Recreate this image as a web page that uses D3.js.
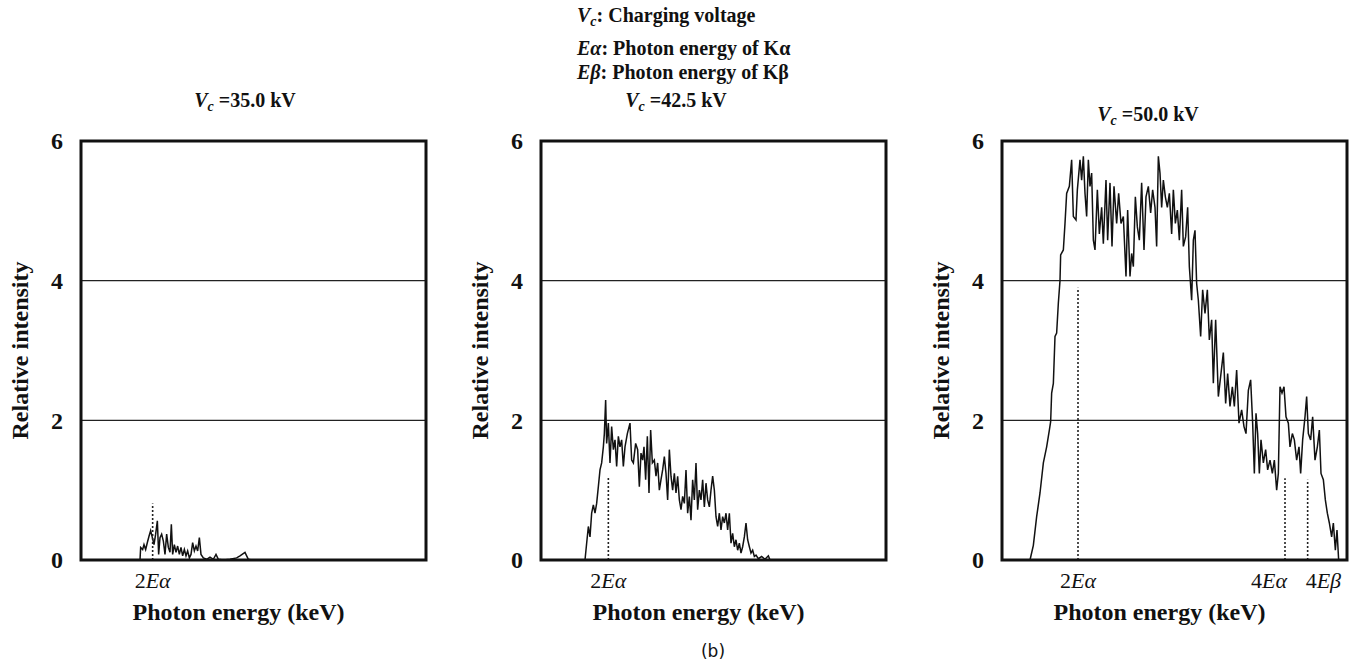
<!DOCTYPE html>
<html>
<head>
<meta charset="utf-8">
<script src="https://cdn.jsdelivr.net/npm/d3@7"></script>
<style>
  html, body { margin: 0; padding: 0; background: #fff; }
  svg { display: block; }
  text { font-family: "Liberation Serif", "Times New Roman", serif; fill: #111; }
</style>
</head>
<body>
<svg id="chart" width="1364" height="668"></svg>
<script>
// ---------------- data ----------------
const yTicks = [0, 2, 4, 6];
const gridValues = [2, 4];
const voltages = ["35.0", "42.5", "50.0"];

// Vc = 35.0 kV
const energy35 = [11.8,11.93,12.33,12.6,12.93,13.27,13.6,13.93,14.27,14.6,14.93,15.27,15.53,15.8,16.13,16.47,16.8,17.13,17.47,17.8,18.07,18.33,18.67,19.0,19.33,19.67,20.0,20.33,20.67,21.0,21.33,21.67,22.0,22.33,22.67,23.0,23.33,23.67,24.0,24.47,25.13,25.8,26.47,27.0,27.47,28.47,29.8,31.13,31.8,32.8,33.13,33.47,34.13];
const intensity35 = [0,0.18,0.15,0.22,0.15,0.25,0.34,0.42,0.32,0.22,0.37,0.56,0.08,0.32,0.37,0.27,0.08,0.37,0.18,0.11,0.51,0.08,0.22,0.11,0.2,0.08,0.18,0.06,0.15,0.06,0.13,0.03,0.08,0.25,0.13,0.2,0.13,0.32,0.08,0.03,0.01,0.04,0.01,0.08,0.01,0,0.01,0.03,0.06,0.11,0.06,0.01,0];

// Vc = 42.5 kV
const energy425 = [8.8,9.13,9.47,9.8,10.13,10.47,10.8,11.13,11.47,11.8,12.13,12.47,12.67,12.93,13.13,13.47,13.8,14.13,14.47,14.8,15.13,15.47,15.8,16.13,16.47,16.8,17.27,17.8,18.13,18.47,18.93,19.33,19.67,20.0,20.33,20.6,20.93,21.27,21.6,21.93,22.27,22.67,23.0,23.33,23.67,24.0,24.33,24.67,25.0,25.33,25.67,26.0,26.33,26.67,27.0,27.33,27.67,28.0,28.33,28.67,29.0,29.33,29.67,30.0,30.33,30.67,31.0,31.33,31.67,32.0,32.33,32.67,33.0,33.33,33.67,34.0,34.33,34.67,35.0,35.33,35.67,36.0,36.33,36.67,37.0,37.33,37.67,38.0,38.33,38.67,39.0,39.33,39.67,40.0,40.33,40.67,41.0,41.33,41.67,42.0,42.33,42.67,43.0,43.47,44.13,44.8,45.47,45.8];
const intensity425 = [0,0.24,0.48,0.33,0.67,0.79,0.67,0.81,1.05,1.29,1.39,1.62,1.81,2.29,1.67,1.96,1.39,1.91,1.58,1.72,1.34,1.77,1.62,1.72,1.34,1.62,1.81,1.96,1.43,1.39,1.67,1.58,1.05,1.53,1.43,1.62,1.15,1.77,0.96,1.86,1.39,1.43,1.2,1.39,1.0,1.15,1.29,1.48,1.24,0.86,1.58,1.2,1.0,1.24,0.96,1.2,0.86,0.72,0.91,0.81,1.29,0.67,0.91,0.57,1.15,0.86,1.39,0.72,1.0,0.86,1.15,0.76,1.1,0.86,0.76,1.0,1.2,1.0,0.62,0.48,0.67,0.43,0.62,0.53,0.67,0.43,0.67,0.24,0.38,0.19,0.29,0.14,0.24,0.1,0.19,0.33,0.53,0.29,0.19,0.1,0.14,0.05,0.07,0.02,0.05,0.01,0.06,0];

// Vc = 50.0 kV
const energy50 = [5.6,6.27,6.93,7.6,8.27,8.93,9.47,9.73,9.93,10.27,10.6,10.93,11.27,11.6,11.73,12.27,12.6,12.93,13.47,13.93,14.27,14.8,15.07,15.6,15.93,16.27,16.6,16.93,17.27,17.6,17.93,18.27,18.6,19.07,19.47,19.93,20.27,20.8,21.13,21.6,22.0,22.4,22.93,23.33,23.8,24.27,24.8,25.13,25.6,25.93,26.27,26.67,27.07,27.47,27.93,28.4,28.8,29.27,29.73,30.13,30.6,30.93,31.27,31.6,31.93,32.27,32.67,33.07,33.47,33.93,34.27,34.67,35.07,35.47,35.93,36.27,36.73,37.13,37.47,37.93,38.27,38.6,38.93,39.27,39.73,40.13,40.6,41.07,41.47,41.93,42.27,42.73,43.27,43.73,44.27,44.73,45.13,45.6,46.07,46.47,46.93,47.4,47.93,48.4,48.8,49.27,49.73,50.13,50.47,50.8,51.13,51.47,51.8,52.27,52.73,53.13,53.6,54.07,54.47,54.93,55.27,55.6,56.0,56.4,56.8,57.27,57.6,58.07,58.47,58.93,59.4,59.73,60.13,60.6,60.93,61.27,61.73,62.13,62.6,63.07,63.47,63.8,64.27,64.67,65.07,65.47,65.93,66.27,66.67,67.0,67.33];
const intensity50 = [0,0.21,0.62,0.96,1.39,1.62,1.86,1.98,2.39,2.53,3.2,3.25,3.68,4.0,4.37,4.44,4.82,5.25,5.35,5.73,4.92,4.87,5.3,5.73,5.44,5.78,5.25,4.92,5.73,5.35,5.54,4.58,4.44,5.3,4.67,5.05,4.53,5.44,4.58,5.4,4.49,5.35,4.82,5.25,4.82,4.92,4.06,5.01,4.06,4.39,4.2,5.2,4.77,4.58,5.4,4.44,5.2,5.35,4.97,5.3,5.05,4.49,5.78,5.54,5.05,5.44,5.2,5.05,5.25,4.67,5.3,4.82,5.01,4.58,5.3,4.49,4.63,5.05,4.2,3.72,4.58,4.72,3.96,3.72,3.2,3.87,3.53,3.87,3.15,3.44,2.53,3.44,2.34,2.63,2.97,2.24,2.67,2.2,2.48,2.2,2.72,1.96,2.15,1.91,1.81,2.43,2.58,1.96,1.24,2.1,1.81,1.24,1.72,1.39,1.58,1.29,1.43,1.24,1.43,1.0,1.24,2.48,2.39,2.48,2.05,1.96,1.62,1.81,1.72,1.43,1.62,1.24,1.72,2.05,2.34,1.81,1.72,2.05,1.43,1.62,1.86,1.24,1.15,0.86,0.67,0.53,0.33,0.53,0.14,0.43,0];

// marker lines (energy, height) and their labels
const markerEnergy35 = [14.33];
const markerTop35 = [0.81];
const markerLabel35 = ["2Eα"];
const markerEnergy425 = [13.47];
const markerTop425 = [1.19];
const markerLabel425 = ["2Eα"];
const markerEnergy50 = [15.2, 56.6, 61.13];
const markerTop50 = [3.9, 1.17, 1.15];
const markerLabel50 = ["2Eα", "4Eα", "4Eβ"];

const legendLines = [
  ["V", "c", ": Charging voltage"],
  ["Eα", "", ": Photon energy of Kα"],
  ["Eβ", "", ": Photon energy of Kβ"]
];
const xAxisTitle = "Photon energy (keV)";
const yAxisTitle = "Relative intensity";
const caption = "(b)";

// ---------------- layout ----------------
const svg = d3.select("#chart");
const plotW = 345, plotTop = 141, plotBottom = 560;
const lefts = [81, 541, 1002];
const titlePos = [[245, 107], [676, 107], [1148, 121]];
const labelAnchor = [["middle"], ["middle"], ["middle", "end", "start"]];
const labelDx = [[0], [0], [0, 2, -2]];

const panels = [
  {e: energy35, v: intensity35, me: markerEnergy35, mt: markerTop35, ml: markerLabel35},
  {e: energy425, v: intensity425, me: markerEnergy425, mt: markerTop425, ml: markerLabel425},
  {e: energy50, v: intensity50, me: markerEnergy50, mt: markerTop50, ml: markerLabel50}
];

const y = d3.scaleLinear().domain([0, 6]).range([plotBottom, plotTop]);

panels.forEach((p, i) => {
  const left = lefts[i];
  const x = d3.scaleLinear().domain([0, 69]).range([left, left + plotW]);
  const g = svg.append("g");

  // gridlines
  g.selectAll(".grid").data(gridValues).enter().append("line")
    .attr("x1", left).attr("x2", left + plotW)
    .attr("y1", d => y(d)).attr("y2", d => y(d))
    .attr("stroke", "#222").attr("stroke-width", 1.3);

  // y axis tick labels via d3 axis
  const yAxis = d3.axisLeft(y).tickValues(yTicks).tickSize(0).tickPadding(18).tickFormat(d3.format("d"));
  const ya = g.append("g").attr("transform", `translate(${left},0)`).call(yAxis);
  ya.select(".domain").remove();
  ya.selectAll("text")
    .style("font-family", '"Liberation Serif", serif')
    .style("font-size", "24px").style("font-weight", "bold").attr("fill", "#111");

  // spectrum
  const line = d3.line().x((d, k) => x(p.e[k])).y((d, k) => y(p.v[k]));
  g.append("path").datum(p.v).attr("d", line)
    .attr("fill", "none").attr("stroke", "#111").attr("stroke-width", 1.5)
    .attr("stroke-linejoin", "miter");

  // marker dotted lines
  g.selectAll(".mk").data(p.me).enter().append("line")
    .attr("x1", d => x(d)).attr("x2", d => x(d))
    .attr("y1", y(0)).attr("y2", (d, k) => y(p.mt[k]))
    .attr("stroke", "#222").attr("stroke-width", 1.6).attr("stroke-dasharray", "2,2");

  // marker labels
  p.ml.forEach((lab, k) => {
    const t = g.append("text")
      .attr("x", x(p.me[k]) + labelDx[i][k]).attr("y", 588)
      .attr("text-anchor", labelAnchor[i][k])
      .style("font-size", "22px").style("font-style", "italic");
    t.append("tspan").text(lab.slice(0, 1)).style("font-style", "normal");
    t.append("tspan").text(lab.slice(1));
  });

  // frame
  g.append("rect").attr("x", left).attr("y", plotTop)
    .attr("width", plotW).attr("height", plotBottom - plotTop)
    .attr("fill", "none").attr("stroke", "#111").attr("stroke-width", 3);

  // x axis title
  g.append("text").attr("x", left + plotW / 2 - 15).attr("y", 620)
    .attr("text-anchor", "middle").style("font-size", "24px").style("font-weight", "bold")
    .text(xAxisTitle);

  // y axis title
  g.append("text")
    .attr("transform", `translate(${left - 53},${(plotTop + plotBottom) / 2}) rotate(-90)`)
    .attr("text-anchor", "middle").style("font-size", "24px").style("font-weight", "bold")
    .text(yAxisTitle);

  // panel title
  const tt = g.append("text").attr("x", titlePos[i][0]).attr("y", titlePos[i][1])
    .attr("text-anchor", "middle").style("font-size", "20px").style("font-weight", "bold");
  tt.append("tspan").text("V").style("font-style", "italic");
  tt.append("tspan").text("c").style("font-style", "italic").style("font-size", "14px").attr("dy", 4);
  tt.append("tspan").text(" =" + voltages[i] + " kV").attr("dy", -4);
});

// legend lines at top
const legendY = [22, 55, 79];
legendLines.forEach((l, i) => {
  const t = svg.append("text").attr("x", 577).attr("y", legendY[i])
    .style("font-size", "20px").style("font-weight", "bold");
  t.append("tspan").text(l[0]).style("font-style", "italic");
  if (l[1]) {
    t.append("tspan").text(l[1]).style("font-style", "italic").style("font-size", "14px").attr("dy", 4);
    t.append("tspan").text(l[2]).attr("dy", -4);
  } else {
    t.append("tspan").text(l[2]);
  }
});

// caption
svg.append("text").attr("x", 713).attr("y", 657).attr("text-anchor", "middle")
  .style("font-family", '"DejaVu Sans", sans-serif').style("font-size", "17px").text(caption);
</script>
</body>
</html>
